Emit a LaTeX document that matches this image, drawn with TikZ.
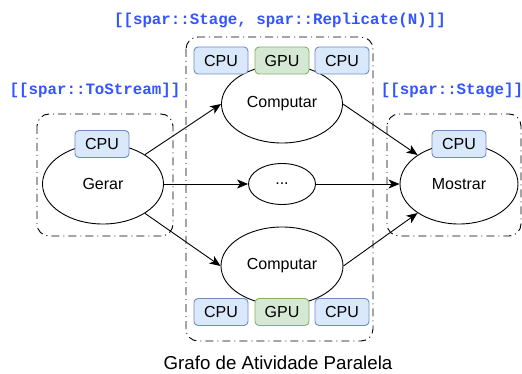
\documentclass[tikz,border=0pt]{standalone}
\usepackage{fontspec}
\setmainfont{Liberation Sans}
\newfontfamily\monob{Liberation Mono}
\usetikzlibrary{arrows.meta,shapes.geometric}
\definecolor{cpufill}{HTML}{DAE8FC}
\definecolor{cpuline}{HTML}{6C8EBF}
\definecolor{gpufill}{HTML}{D5E8D4}
\definecolor{gpuline}{HTML}{82B366}
\definecolor{sparblue}{HTML}{3355FF}
\tikzset{
  grp/.style={draw, line width=0.9pt, rounded corners=12pt, dash pattern=on 8pt off 4pt on 1pt off 4pt},
  proc/.style={draw, ellipse, line width=0.9pt, fill=white, inner sep=0pt, font=\fontsize{16}{19}\selectfont},
  cpubox/.style={draw=cpuline, fill=cpufill, line width=0.9pt, rounded corners=4pt, minimum width=54pt, minimum height=27pt, inner sep=0pt, font=\fontsize{16}{19}\selectfont},
  gpubox/.style={cpubox, draw=gpuline, fill=gpufill},
  annot/.style={text=sparblue, font=\monob\bfseries\fontsize{15.8}{18}\selectfont, inner sep=0pt},
  flow/.style={-{Stealth[length=11pt,width=9pt,inset=3pt]}, line width=0.9pt},
}
\begin{document}
\begin{tikzpicture}[x=1pt,y=-1pt]
\useasboundingbox (0,0) rectangle (522,374);
% group frames
\draw[grp] (37,114) rectangle (173,236);
\draw[grp] (186,37) rectangle (373,341);
\draw[grp] (387,114) rectangle (521,236);
% annotations
\node[annot] (a1) at (280,20) {[[spar::Stage, spar::Replicate(N)]]};
\node[annot] (a2) at (95,90) {[[spar::ToStream]]};
\node[annot] (a3) at (452,90) {[[spar::Stage]]};
% processes
\node[proc, minimum width=121pt, minimum height=80pt] (gerar) at (103,184) {Gerar};
\node[proc, minimum width=121pt, minimum height=78pt] (comp1) at (282,104) {Computar};
\node[proc, minimum width=67pt, minimum height=41pt] (dots) at (282,184) {...};
\node[proc, minimum width=122pt, minimum height=78pt] (comp2) at (282,266) {Computar};
\node[proc, minimum width=118pt, minimum height=80pt] (mostrar) at (459,184) {Mostrar};
% resource boxes
\node[cpubox] (gcpu) at (102,144) {CPU};
\node[cpubox] (c1a) at (221,60.5) {CPU};
\node[gpubox] (c1b) at (282,60.5) {GPU};
\node[cpubox] (c1c) at (342,60.5) {CPU};
\node[cpubox] (c2a) at (221,312) {CPU};
\node[gpubox] (c2b) at (282,312) {GPU};
\node[cpubox] (c2c) at (342,312) {CPU};
\node[cpubox] (mcpu) at (459,144) {CPU};
% connectors
\draw[flow] (gerar.35) -- (comp1.west);
\draw[flow] (gerar.east) -- (dots.west);
\draw[flow] (gerar.-35) -- (comp2.west);
\draw[flow] (comp1.east) -- (mostrar.145);
\draw[flow] (dots.east) -- (mostrar.west);
\draw[flow] (comp2.east) -- (mostrar.215);
% caption
\node[font=\fontsize{18.7}{22}\selectfont, inner sep=0pt] (cap) at (278,363) {Grafo de Atividade Paralela};
\end{tikzpicture}
\end{document}
